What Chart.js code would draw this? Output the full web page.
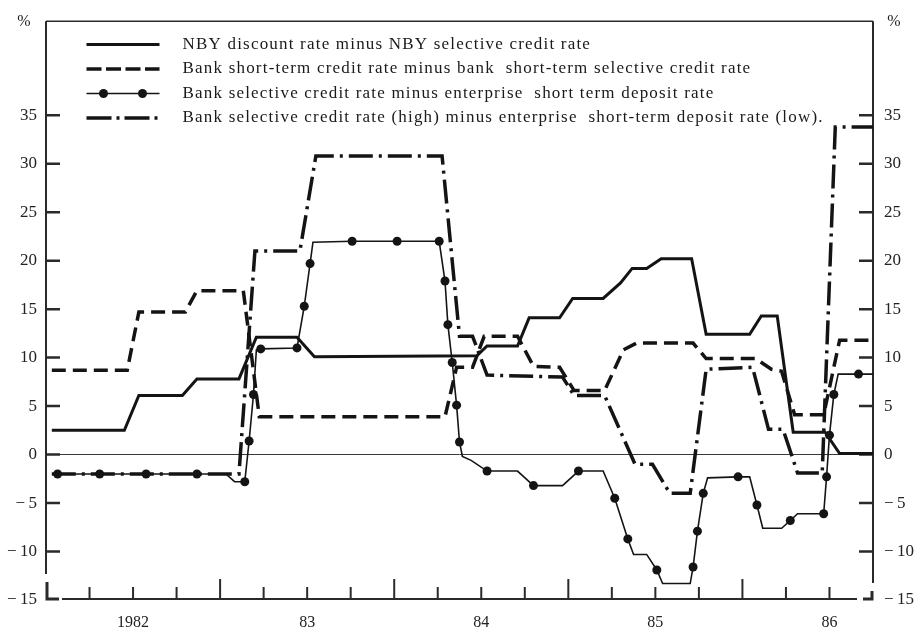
<!DOCTYPE html>
<html>
<head>
<meta charset="utf-8">
<script src="https://cdn.jsdelivr.net/npm/chart.js@4/dist/chart.umd.min.js"></script>
<style>
  html, body { margin: 0; padding: 0; background: #ffffff; }
  #wrap { width: 919px; height: 630px; }
</style>
</head>
<body>
<div id="wrap"><canvas id="c" width="919" height="630"></canvas></div>
<script>
// Time axis: months counted from January 1982 (0 = start of 1982).
const yearLabels = { 6: '1982', 18: '83', 30: '84', 42: '85', 54: '86' };

const seriesNames = [
  'NBY discount rate minus NBY selective credit rate',
  'Bank short-term credit rate minus bank  short-term selective credit rate',
  'Bank selective credit rate minus enterprise  short term deposit rate',
  'Bank selective credit rate (high) minus enterprise  short-term deposit rate (low).'
];

// NBY discount rate minus NBY selective credit rate (%)
const nbyMonth = [0.4, 5.4, 6.4, 9.4, 10.4, 13.3, 14.5, 17.3, 18.5, 29.7, 30.4, 32.5, 33.3, 35.4, 36.3, 38.4, 39.6, 40.4, 41.4, 42.4, 44.5, 45.5, 48.5, 49.3, 50.4, 51.5, 53.7, 54.7, 57.0];
const nbyValue = [2.5, 2.5, 6.1, 6.1, 7.8, 7.8, 12.1, 12.1, 10.1, 10.2, 11.2, 11.2, 14.1, 14.1, 16.1, 16.1, 17.7, 19.2, 19.2, 20.2, 20.2, 12.4, 12.4, 14.3, 14.3, 2.3, 2.3, 0.1, 0.1];

// Bank short-term credit rate minus bank short-term selective credit rate (%)
const bankMonth = [0.4, 5.6, 6.4, 9.6, 10.4, 13.6, 14.7, 27.5, 28.3, 29.4, 30.2, 32.5, 33.6, 35.4, 36.4, 38.5, 39.8, 40.7, 44.6, 45.5, 48.9, 50.0, 50.7, 51.6, 53.6, 54.7, 57.0];
const bankValue = [8.7, 8.7, 14.7, 14.7, 16.9, 16.9, 3.9, 3.9, 9.0, 9.0, 12.2, 12.2, 9.1, 9.0, 6.6, 6.6, 10.8, 11.5, 11.5, 9.9, 9.9, 8.8, 8.6, 4.1, 4.1, 11.8, 11.8];

// Bank selective credit rate minus enterprise short-term deposit rate (%)
const depMonth = [0.8, 3.7, 6.9, 10.4, 12.4, 13.0, 13.7, 14.0, 14.3, 14.5, 14.8, 17.3, 17.8, 18.2, 18.4, 21.1, 24.2, 27.1, 27.5, 27.7, 28.0, 28.3, 28.5, 28.7, 29.3, 30.4, 32.5, 33.6, 35.6, 36.7, 38.4, 39.2, 40.1, 40.5, 41.4, 42.1, 42.5, 44.4, 44.6, 44.9, 45.3, 45.6, 47.7, 48.5, 49.0, 49.4, 50.7, 51.3, 51.8, 53.6, 53.8, 54.0, 54.3, 54.6, 56.0, 57.0];
const depValue = [-2.0, -2.0, -2.0, -2.0, -2.0, -2.8, -2.8, 1.4, 6.2, 10.8, 10.9, 11.0, 15.3, 19.7, 21.9, 22.0, 22.0, 22.0, 17.9, 13.4, 9.5, 5.1, 1.3, -0.2, -0.6, -1.7, -1.7, -3.2, -3.2, -1.7, -1.7, -4.5, -8.7, -10.3, -10.3, -11.9, -13.3, -13.3, -11.6, -7.9, -4.0, -2.4, -2.3, -2.3, -5.2, -7.6, -7.6, -6.8, -6.1, -6.1, -2.3, 2.0, 6.2, 8.3, 8.3, 8.3];
// 1 = observation (drawn with a dot), 0 = turning point of the line only
const depObserved = [1, 1, 1, 1, 0, 0, 1, 1, 1, 0, 1, 1, 1, 1, 0, 1, 1, 1, 1, 1, 1, 1, 1, 0, 0, 1, 0, 1, 0, 1, 0, 1, 1, 0, 0, 1, 0, 0, 1, 1, 1, 0, 1, 0, 1, 0, 0, 1, 0, 1, 1, 1, 1, 0, 1, 0];

// Bank selective credit rate (high) minus enterprise short-term deposit rate (low) (%)
const highLowMonth = [0.4, 13.3, 14.4, 17.5, 18.6, 27.3, 28.5, 29.4, 30.4, 35.6, 36.4, 38.5, 40.6, 41.8, 43.0, 44.4, 45.5, 48.7, 49.8, 50.8, 51.8, 53.5, 54.4, 57.0];
const highLowValue = [-2.0, -2.0, 21.0, 21.0, 30.8, 30.8, 12.2, 12.2, 8.2, 8.0, 6.1, 6.1, -1.0, -1.0, -4.0, -4.0, 8.8, 9.0, 2.6, 2.6, -1.9, -1.9, 33.8, 33.8];

const INK = '#141414';
const pts = (ms, vs) => ms.map((m, i) => ({ x: m, y: vs[i] }));
const fmtY = v => (v < 0 ? '\u2212\u2009' + Math.abs(v) : String(v));

// Frame, broken bottom axis with bracket ends, inward tick marks, legend line samples, % units
const decorations = {
  id: 'decorations',
  beforeDraw(chart) {
    // the legend is set in a loosely spaced type
    chart.ctx.letterSpacing = '1.2px';
  },
  beforeDatasetsDraw(chart) {
    const { ctx, chartArea: a, scales } = chart;
    ctx.letterSpacing = '0px';
    const xs = scales.x, ys = scales.y;
    const yb = ys.getPixelForValue(-15) - 1;
    ctx.save();
    ctx.strokeStyle = '#2a2a2a';
    ctx.lineCap = 'butt';
    // top rule
    ctx.lineWidth = 1.5;
    ctx.beginPath(); ctx.moveTo(a.left, a.top); ctx.lineTo(a.right, a.top); ctx.stroke();
    // side axes (stopping short of the bottom)
    ctx.lineWidth = 2;
    ctx.beginPath();
    ctx.moveTo(a.left, a.top); ctx.lineTo(a.left, yb - 25);
    ctx.moveTo(a.right, a.top); ctx.lineTo(a.right, yb - 16);
    ctx.stroke();
    // bracket corners
    ctx.lineWidth = 3;
    ctx.beginPath();
    ctx.moveTo(a.left + 1, yb - 17); ctx.lineTo(a.left + 1, yb); ctx.lineTo(a.left + 13, yb);
    ctx.moveTo(a.right - 10, yb); ctx.lineTo(a.right - 1, yb); ctx.lineTo(a.right - 1, yb - 8);
    ctx.stroke();
    // bottom axis line
    ctx.lineWidth = 2;
    ctx.beginPath(); ctx.moveTo(a.left + 16, yb); ctx.lineTo(a.right - 16, yb); ctx.stroke();
    // x tick marks, pointing up
    xs.ticks.forEach(t => {
      if (t.value <= 0 || t.value >= 57) return;
      const px = xs.getPixelForValue(t.value);
      const len = t.value % 12 === 0 ? 20 : 12;
      ctx.beginPath(); ctx.moveTo(px, yb); ctx.lineTo(px, yb - len); ctx.stroke();
    });
    // y tick marks on both sides, pointing inward
    ctx.lineWidth = 2.5;
    ys.ticks.forEach(t => {
      if (t.value <= -15) return;
      const py = ys.getPixelForValue(t.value);
      ctx.beginPath();
      ctx.moveTo(a.left, py); ctx.lineTo(a.left + 14, py);
      ctx.moveTo(a.right, py); ctx.lineTo(a.right - 14, py);
      ctx.stroke();
    });
    ctx.restore();
  },
  afterDraw(chart) {
    const { ctx } = chart;
    ctx.save();
    // unit labels
    ctx.fillStyle = '#222';
    ctx.font = '16px "Liberation Serif"';
    ctx.textAlign = 'center';
    ctx.textBaseline = 'middle';
    ctx.fillText('%', 24, 22);
    ctx.fillText('%', 894, 22);
    // legend line samples
    const lg = chart.legend;
    (lg.legendHitBoxes || []).forEach((hb, i) => {
      const ds = chart.data.datasets[i];
      const y = hb.top + hb.height / 2;
      const x0 = hb.left + 33, x1 = hb.left + 106;
      ctx.strokeStyle = INK;
      ctx.lineWidth = ds.borderWidth;
      ctx.setLineDash(ds.legendDash || []);
      ctx.beginPath(); ctx.moveTo(x0, y); ctx.lineTo(x1, y); ctx.stroke();
      ctx.setLineDash([]);
      if (i === 2) {
        ctx.fillStyle = INK;
        [x0 + 17, x0 + 56].forEach(cx => { ctx.beginPath(); ctx.arc(cx, y, 4.5, 0, Math.PI * 2); ctx.fill(); });
      }
    });
    ctx.restore();
  }
};

const tickFont = size => ({ family: 'Liberation Serif', size });

new Chart(document.getElementById('c'), {
  type: 'line',
  data: {
    datasets: [
      { label: seriesNames[0], data: pts(nbyMonth, nbyValue), borderColor: INK, borderWidth: 3, pointRadius: 0, legendDash: [] },
      { label: seriesNames[1], data: pts(bankMonth, bankValue), borderColor: INK, borderWidth: 3.5, borderDash: [14, 7], pointRadius: 0, legendDash: [15, 4.5] },
      { label: seriesNames[2], data: pts(depMonth, depValue), borderColor: INK, borderWidth: 1.6,
        pointRadius: c => (depObserved[c.dataIndex] ? 4.5 : 0), pointHoverRadius: c => (depObserved[c.dataIndex] ? 4.5 : 0),
        pointBackgroundColor: INK, pointBorderWidth: 0, legendDash: [] },
      { label: seriesNames[3], data: pts(highLowMonth, highLowValue), borderColor: INK, borderWidth: 3.5, borderDash: [24, 6, 3, 6], pointRadius: 0, legendDash: [25, 5, 3, 5] }
    ]
  },
  options: {
    responsive: false,
    devicePixelRatio: 1,
    animation: false,
    events: [],
    layout: { padding: { top: 15, left: 0, right: 0, bottom: 0 } },
    elements: { line: { tension: 0, fill: false, borderCapStyle: 'butt', borderJoinStyle: 'miter' } },
    scales: {
      x: {
        type: 'linear', min: 0, max: 57,
        afterFit: s => { s.height = 30; },
        grid: { display: false, drawTicks: false },
        border: { display: false },
        ticks: {
          z: 1, stepSize: 3, autoSkip: false, maxRotation: 0, padding: 13,
          color: '#222', font: tickFont(16),
          callback: v => yearLabels[v] || ''
        }
      },
      y: {
        position: 'left', min: -15, max: 44.7,
        afterFit: s => { s.width = 46; },
        afterBuildTicks: s => { s.ticks = s.ticks.filter(t => t.value <= 35 && t.value % 5 === 0); },
        grid: { drawTicks: false, lineWidth: 1, color: c => (c.tick && c.tick.value === 0 ? '#3a3a3a' : 'rgba(0,0,0,0)') },
        border: { display: false },
        ticks: { z: 1, stepSize: 5, padding: 9, color: '#222', font: tickFont(17), callback: fmtY }
      },
      y2: {
        position: 'right', min: -15, max: 44.7,
        afterFit: s => { s.width = 46; },
        afterBuildTicks: s => { s.ticks = s.ticks.filter(t => t.value <= 35 && t.value % 5 === 0); },
        grid: { display: false, drawTicks: false },
        border: { display: false },
        ticks: { z: 1, stepSize: 5, padding: 11, color: '#222', font: tickFont(17), callback: fmtY }
      }
    },
    plugins: {
      tooltip: { enabled: false },
      legend: {
        position: 'chartArea',
        align: 'start',
        title: { display: true, text: ' ', font: { size: 1, lineHeight: 1 }, padding: { top: 27.5, bottom: 0 } },
        labels: {
          padding: 7.5,
          boxWidth: 120.5,
          boxHeight: 17,
          color: '#1a1a1a',
          font: tickFont(17),
          generateLabels: chart => chart.data.datasets.map((ds, i) => ({
            text: ds.label, fillStyle: 'rgba(0,0,0,0)', strokeStyle: 'rgba(0,0,0,0)',
            lineWidth: 0, hidden: false, datasetIndex: i, fontColor: '#1a1a1a'
          }))
        }
      }
    }
  },
  plugins: [decorations]
});
</script>
</body>
</html>
